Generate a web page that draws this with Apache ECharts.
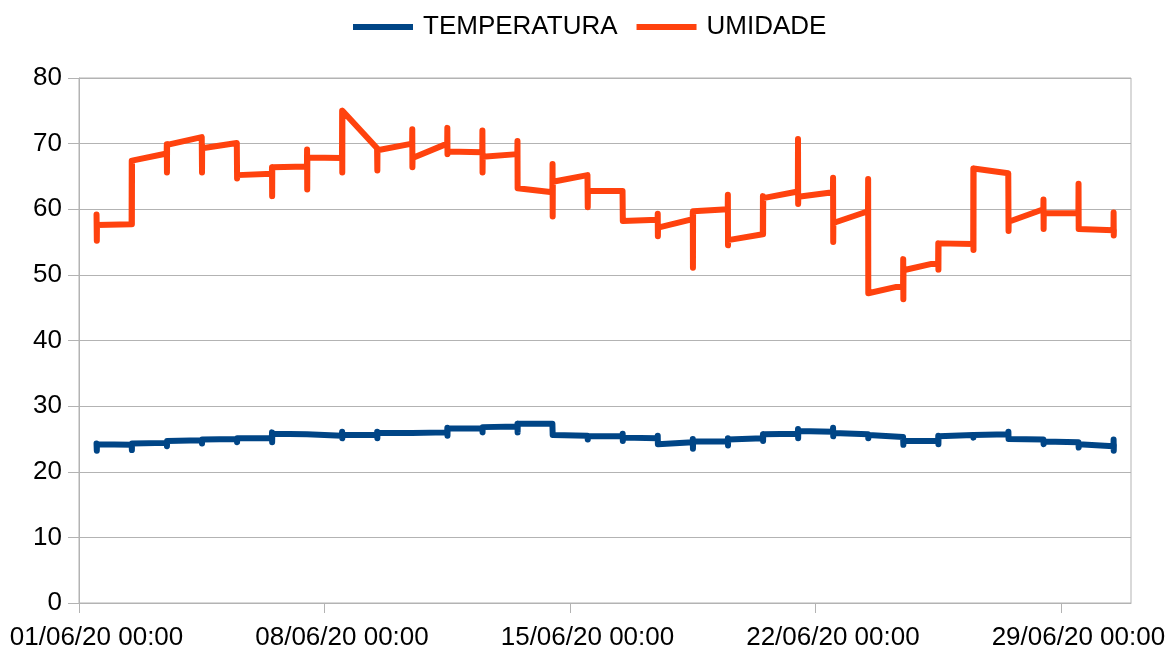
<!DOCTYPE html>
<html>
<head>
<meta charset="utf-8">
<script src="https://cdn.jsdelivr.net/npm/echarts@6/dist/echarts.min.js"></script>
<style>
  html, body { margin: 0; padding: 0; background: #fff; }
  #chart { width: 1168px; height: 648px; }
</style>
</head>
<body>
<div id="chart"></div>
<script>
// x axis ticks (day offset from 01/06/20 00:00) and their labels
var tickDays = [0, 7, 14, 21, 28];
var tickLabels = ['01/06/20 00:00', '08/06/20 00:00', '15/06/20 00:00', '22/06/20 00:00', '29/06/20 00:00'];

// one burst of readings per day around 12:00 (first, max, min, last)
var humOpen  = [59.2, 57.7, 68.5, 71.0, 70.1, 65.4, 66.5, 67.8, 69.3, 70.0, 70.0, 68.7, 68.4, 62.6, 65.2, 62.8, 58.4, 58.5, 60.0, 56.2, 62.7, 62.6, 59.7, 48.4, 51.9, 54.7, 65.5, 60.0, 59.4, 56.8];
var humHigh  = [59.2, 67.4, 69.9, 71.0, 70.4, 66.4, 69.1, 75.0, 69.3, 72.2, 72.4, 72.0, 70.4, 66.9, 65.4, 62.8, 59.3, 59.6, 62.2, 62.0, 70.7, 64.8, 64.6, 52.4, 54.8, 66.2, 65.5, 61.5, 63.9, 59.5];
var humLow   = [55.2, 57.7, 65.6, 65.6, 64.7, 62.0, 63.0, 65.6, 65.9, 66.4, 68.4, 65.6, 63.2, 58.9, 60.3, 58.2, 55.9, 51.1, 54.5, 56.2, 60.8, 55.0, 47.2, 46.3, 50.8, 53.8, 56.7, 57.0, 57.0, 56.0];
var humClose = [57.6, 67.4, 69.8, 69.3, 65.2, 66.4, 67.9, 75.0, 69.0, 67.8, 68.8, 68.0, 62.9, 64.2, 62.8, 58.4, 57.2, 59.7, 55.3, 61.7, 61.9, 57.9, 47.2, 50.7, 54.8, 66.2, 58.1, 59.4, 56.8, 56.8];

var tempOpen  = [24.3, 24.1, 24.4, 24.8, 25.0, 25.1, 25.7, 25.5, 25.6, 25.9, 26.0, 26.6, 26.9, 27.3, 25.5, 25.4, 25.1, 24.5, 24.6, 25.1, 25.8, 26.1, 25.7, 25.3, 24.7, 25.6, 25.7, 24.9, 24.5, 23.9];
var tempHigh  = [24.3, 24.4, 24.7, 24.9, 25.1, 26.0, 25.8, 26.1, 26.1, 26.2, 26.7, 26.9, 27.3, 27.3, 25.5, 25.8, 25.5, 25.0, 25.1, 25.7, 26.5, 26.7, 26.0, 25.3, 25.5, 25.9, 26.1, 24.9, 24.7, 24.9];
var tempLow   = [23.2, 23.3, 23.9, 24.3, 24.5, 24.5, 25.4, 25.1, 25.1, 25.6, 25.5, 26.0, 26.0, 25.6, 24.9, 24.7, 24.2, 23.5, 24.0, 24.7, 25.1, 25.4, 25.1, 24.1, 24.2, 25.2, 25.0, 24.2, 23.7, 23.2];
var tempClose = [24.2, 24.3, 24.7, 24.9, 25.1, 25.8, 25.6, 25.6, 25.9, 26.0, 26.6, 26.8, 27.3, 25.6, 25.4, 25.2, 24.5, 24.6, 24.9, 25.7, 26.2, 25.9, 25.6, 24.7, 25.4, 25.6, 25.1, 24.6, 24.2, 24.1];

function buildPoints(open, high, low, close) {
    var pts = [];
    for (var d = 0; d < open.length; d++) {
        var t = d + 0.5; // 12:00
        pts.push([t, open[d]]);
        pts.push([t + 0.004, high[d]]);
        pts.push([t + 0.008, low[d]]);
        pts.push([t + 0.012, close[d]]);
    }
    return pts;
}

// labels sit in the middle of the day, ticks at midnight
var labelDays = tickDays.map(function (d) { return d + 0.5; });

var font = 'Liberation Sans';
var gridColor = '#b3b3b3';

var chart = echarts.init(document.getElementById('chart'), null, {renderer: 'canvas'});
chart.setOption({
    animation: false,
    backgroundColor: '#ffffff',
    textStyle: {fontFamily: font},
    legend: {
        top: 14,
        left: 353,
        padding: 0,
        itemWidth: 60,
        itemHeight: 6,
        itemGap: 19,
        icon: 'rect',
        textStyle: {
            fontFamily: font,
            fontSize: 26,
            color: '#000',
            padding: [0, 0, 0, 5]
        },
        data: ['TEMPERATURA', 'UMIDADE']
    },
    grid: {
        left: 79,
        right: 37,
        top: 78,
        bottom: 45,
        show: true,
        borderColor: gridColor,
        borderWidth: 1,
        containLabel: false,
        outerBoundsMode: 'none'
    },
    xAxis: {
        type: 'value',
        min: 0,
        max: 30,
        interval: 7,
        axisLine: {show: true, onZero: false, lineStyle: {color: gridColor, width: 1}},
        axisTick: {
            show: true,
            length: 10,
            customValues: tickDays,
            lineStyle: {color: gridColor, width: 1}
        },
        splitLine: {show: false},
        axisLabel: {
            customValues: labelDays,
            margin: 22,
            fontFamily: font,
            fontSize: 26,
            color: '#000',
            formatter: function (v) {
                var i = tickDays.indexOf(Math.floor(v));
                return i >= 0 ? tickLabels[i] : '';
            }
        }
    },
    yAxis: {
        type: 'value',
        min: 0,
        max: 80,
        interval: 10,
        axisLine: {show: true, lineStyle: {color: gridColor, width: 1}},
        axisTick: {show: true, length: 11, lineStyle: {color: gridColor, width: 1}},
        splitLine: {show: true, lineStyle: {color: gridColor, width: 1}},
        axisLabel: {
            margin: 17,
            fontFamily: font,
            fontSize: 26,
            color: '#000'
        }
    },
    series: [
        {
            name: 'TEMPERATURA',
            type: 'line',
            showSymbol: false,
            symbol: 'none',
            data: buildPoints(tempOpen, tempHigh, tempLow, tempClose),
            itemStyle: {color: '#004586'},
            lineStyle: {color: '#004586', width: 6, cap: 'round', join: 'round'}
        },
        {
            name: 'UMIDADE',
            type: 'line',
            showSymbol: false,
            symbol: 'none',
            data: buildPoints(humOpen, humHigh, humLow, humClose),
            itemStyle: {color: '#ff420e'},
            lineStyle: {color: '#ff420e', width: 6, cap: 'round', join: 'round'}
        }
    ]
});
</script>
</body>
</html>
